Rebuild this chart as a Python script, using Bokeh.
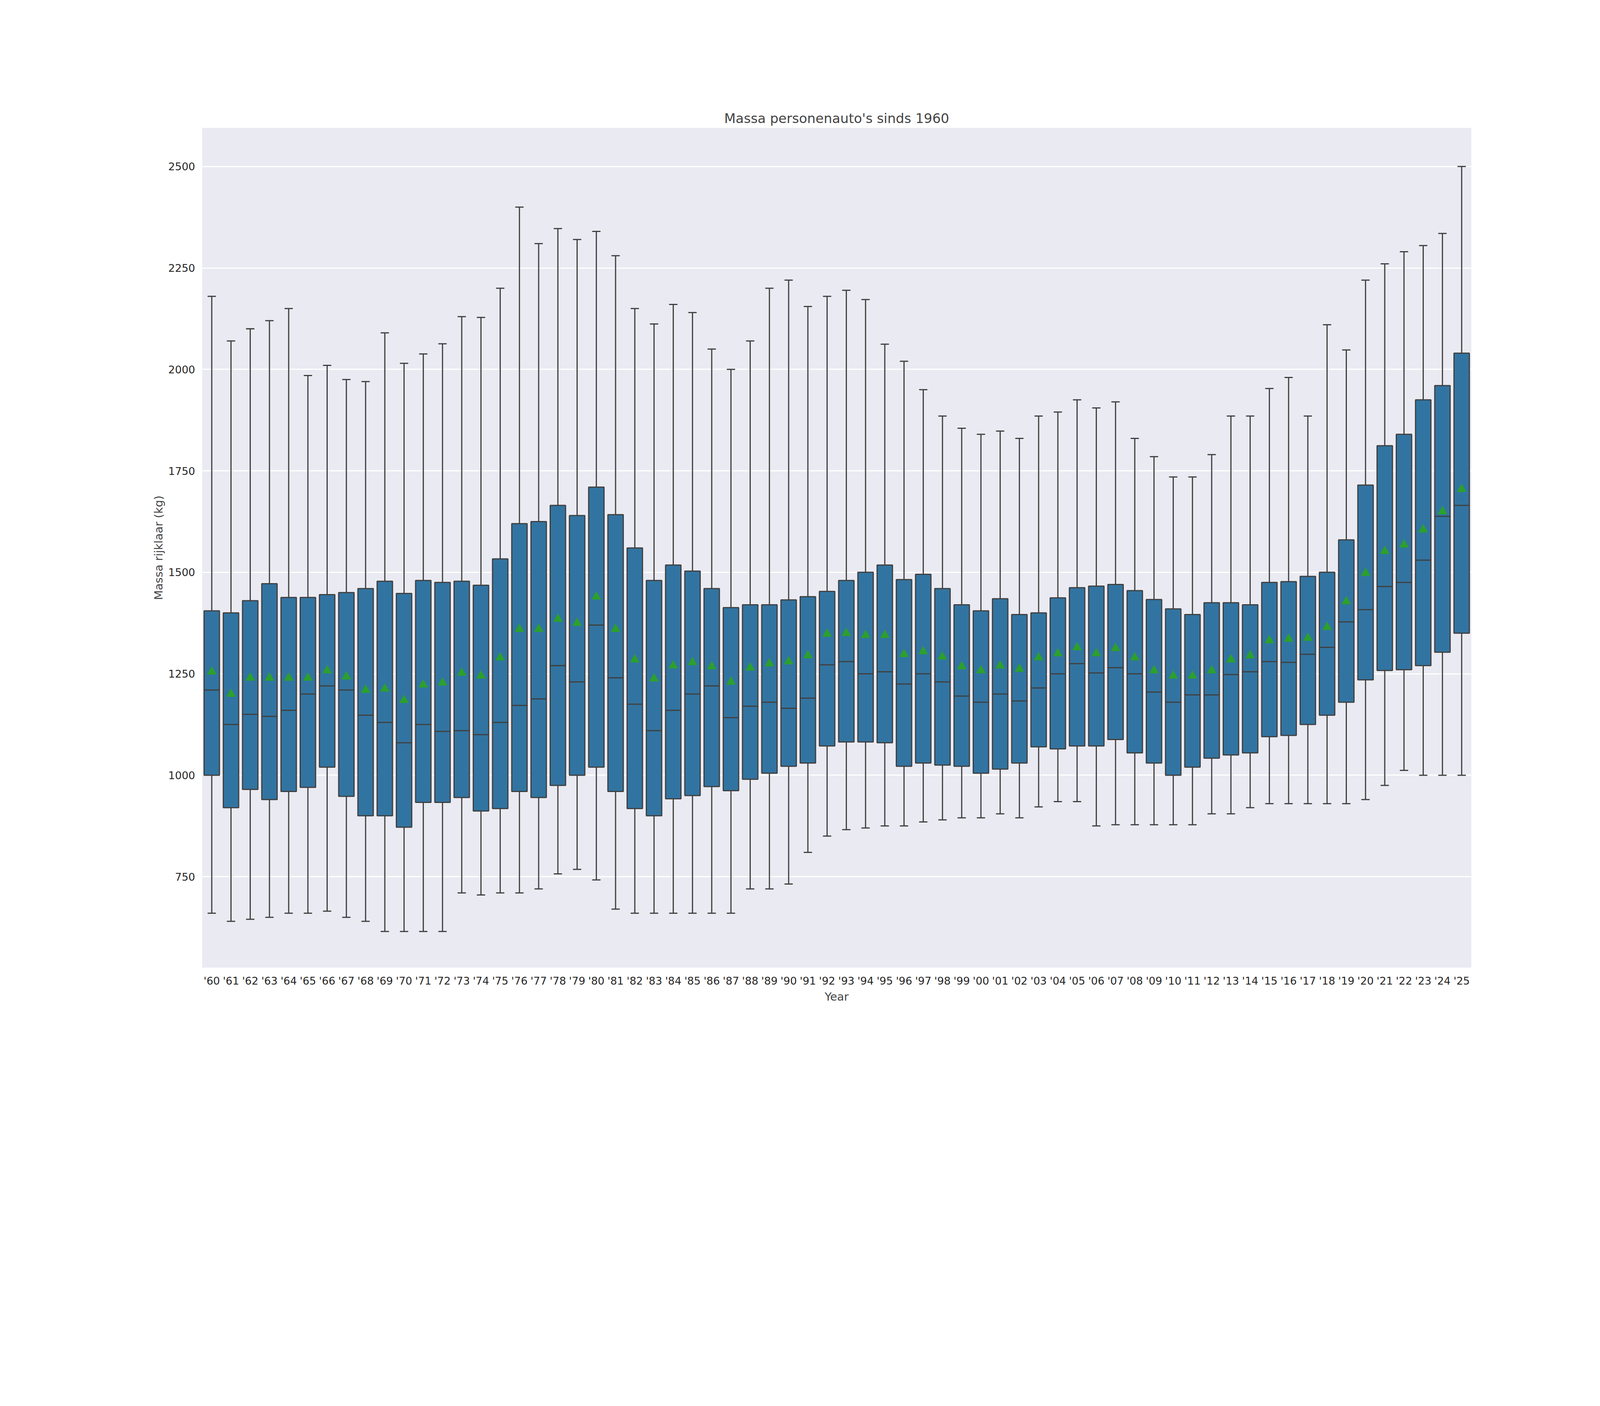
from bokeh.plotting import figure
from bokeh.models import ColumnDataSource, FixedTicker
from bokeh.embed import file_html
from bokeh.resources import INLINE

years = ["'%02d" % (y % 100) for y in range(1960, 2026)]
low = [660,640,645,650,660,660,665,650,640,615,615,615,615,710,705,710,710,720,757,768,742,670,660,660,660,660,660,660,720,720,732,810,850,866,870,875,875,885,890,895,895,905,895,922,935,935,875,878,878,878,878,878,905,905,920,930,930,930,930,930,940,975,1012,1000,1000,1000]
q1 = [1000,920,965,940,960,970,1020,948,900,900,872,933,933,945,912,918,960,945,975,1000,1020,960,918,900,942,950,972,962,990,1005,1022,1030,1072,1082,1082,1080,1022,1030,1025,1022,1005,1015,1030,1070,1065,1072,1072,1088,1055,1030,1000,1020,1042,1050,1055,1095,1098,1125,1148,1180,1235,1258,1260,1270,1303,1350]
med = [1210,1125,1150,1145,1160,1200,1220,1210,1148,1130,1080,1125,1108,1110,1100,1130,1172,1188,1270,1230,1370,1240,1175,1110,1160,1200,1220,1142,1170,1180,1165,1190,1272,1280,1250,1255,1225,1250,1230,1195,1180,1200,1183,1215,1250,1275,1252,1265,1250,1205,1180,1198,1198,1248,1255,1280,1278,1298,1315,1378,1408,1465,1475,1530,1638,1665]
q3 = [1405,1400,1430,1472,1438,1438,1445,1450,1460,1478,1448,1480,1475,1478,1468,1533,1620,1625,1665,1640,1710,1642,1560,1480,1518,1503,1460,1413,1420,1420,1432,1440,1453,1480,1500,1518,1482,1495,1460,1420,1405,1435,1396,1400,1437,1462,1466,1470,1455,1433,1410,1396,1425,1425,1420,1475,1477,1490,1500,1580,1715,1812,1840,1925,1960,2040]
high = [2180,2070,2100,2120,2150,1985,2010,1975,1970,2090,2015,2038,2063,2130,2128,2200,2400,2310,2347,2320,2340,2280,2150,2112,2160,2140,2050,2000,2070,2200,2220,2155,2180,2195,2172,2062,2020,1950,1885,1855,1840,1848,1830,1885,1895,1925,1905,1920,1830,1785,1735,1735,1790,1885,1885,1953,1980,1885,2110,2048,2220,2260,2290,2305,2335,2500]
mean = [1255,1200,1240,1240,1240,1240,1258,1243,1210,1213,1185,1223,1228,1252,1245,1290,1360,1360,1385,1375,1440,1360,1285,1238,1270,1278,1268,1230,1265,1275,1280,1295,1348,1350,1345,1345,1298,1305,1292,1268,1258,1270,1262,1290,1300,1315,1300,1313,1290,1258,1245,1245,1258,1285,1295,1332,1336,1338,1365,1428,1498,1552,1568,1605,1650,1705]

src = ColumnDataSource(dict(x=years, low=low, q1=q1, med=med, q3=q3, high=high, mean=mean))

p = figure(width=4145, height=2762, x_range=years, y_range=(526, 2595),
           output_backend="svg", toolbar_location=None,
           title="Massa personenauto's sinds 1960",
           min_border_left=517, min_border_right=379, min_border_top=327, min_border_bottom=285)
p.background_fill_color = "#eaeaf2"
p.border_fill_color = "white"
p.outline_line_color = None
p.title.align = "center"
p.title.text_font = "DejaVu Sans"
p.title.text_font_size = "34px"
p.title.text_font_style = "normal"
p.title.offset = 0

edge = "#3f3f3f"
lw = 3
p.segment("x", "q3", "x", "high", source=src, line_color=edge, line_width=lw)
p.segment("x", "low", "x", "q1", source=src, line_color=edge, line_width=lw)
p.vbar(x="x", width=0.8, bottom="q1", top="q3", source=src, fill_color="#3274a1", line_color=edge, line_width=lw)
p.rect(x="x", y="med", width=0.8, height=0.01, height_units="screen", source=src, line_color=edge, line_width=lw)
p.rect(x="x", y="high", width=0.4, height=0.01, height_units="screen", source=src, line_color=edge, line_width=lw)
p.rect(x="x", y="low", width=0.4, height=0.01, height_units="screen", source=src, line_color=edge, line_width=lw)
p.scatter(x="x", y="mean", source=src, marker="triangle", size=23, fill_color="#2ca02c", line_color="#2ca02c")

p.yaxis.ticker = FixedTicker(ticks=[750, 1000, 1250, 1500, 1750, 2000, 2250, 2500])
p.xgrid.grid_line_color = None
p.ygrid.grid_line_color = "white"
p.ygrid.grid_line_width = 3
for ax in (p.xaxis, p.yaxis):
    ax.axis_line_color = None
    ax.major_tick_line_color = None
    ax.minor_tick_line_color = None
    ax.major_label_text_font = "DejaVu Sans"
    ax.major_label_text_font_size = "27px"
    ax.axis_label_text_font = "DejaVu Sans"
    ax.axis_label_text_font_size = "29px"
    ax.axis_label_text_font_style = "normal"
    ax.major_label_text_color = "#262626"
p.xaxis.axis_label = "Year"
p.yaxis.axis_label = "Massa rijklaar (kg)"
p.xaxis.major_label_standoff = 12
p.yaxis.major_label_standoff = 12

open("out.html", "w").write(file_html(p, INLINE))
